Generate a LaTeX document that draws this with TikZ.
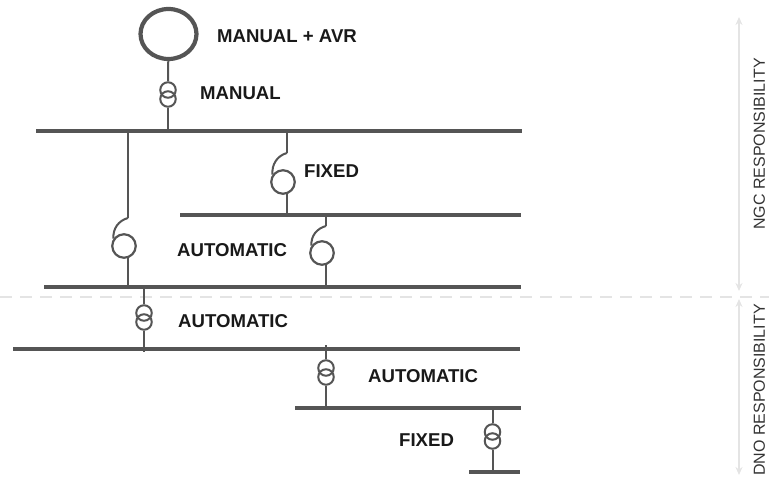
\documentclass[tikz,border=0pt]{standalone}
\usepackage{fontspec}
\setmainfont{Liberation Sans}
\usetikzlibrary{calc}
\usetikzlibrary{arrows.meta}
\usetikzlibrary{shapes.geometric}
\definecolor{linegrey}{HTML}{555555}
\definecolor{palegrey}{HTML}{E4E4E4}

\begin{document}
\begin{tikzpicture}[
      x=1pt, y=1pt,
      wire/.style={draw=linegrey, line width=2pt},
      bus/.style={rectangle, fill=linegrey, draw=none, inner sep=0pt, minimum height=4.8pt},
      trafo/.style={circle, draw=linegrey, line width=2pt, inner sep=0pt, minimum size=15.5pt},
      tap/.style={circle, draw=linegrey, line width=2.2pt, inner sep=0pt, minimum size=23.5pt},
      lbl/.style={font=\fontsize{18.6}{20}\selectfont\bfseries, text=black!90, anchor=west, inner sep=0pt},
      side/.style={font=\fontsize{16}{18}\selectfont, text=black!80, rotate=90, anchor=north west, inner sep=0pt},
      pale/.style={draw=palegrey, line width=1.5pt}
    ]
    \useasboundingbox (0,0) rectangle (769,478);

    % Limite de responsabilidade
    \coordinate (d1) at (0,181);
    \coordinate (d2) at (769,181);
    \draw[pale, dash pattern=on 12pt off 8pt] (d1) -- (d2);
    \coordinate (a1) at (739,461);
    \coordinate (a2) at (739,187);
    \coordinate (a3) at (739,179);
    \coordinate (a4) at (739,3);
    \draw[pale, {Stealth[length=8pt, width=7pt]}-{Stealth[length=8pt, width=7pt]}] (a1) -- (a2);
    \draw[pale, {Stealth[length=8pt, width=7pt]}-{Stealth[length=8pt, width=7pt]}] (a3) -- (a4);
    \node[side] (ngc) at (753.5,248) {NGC RESPONSIBILITY};
    \node[side] (dno) at (753.5,2) {DNO RESPONSIBILITY};

    % Barramentos
    \node[bus, minimum width=486pt] (b1) at (279,347) {};
    \node[bus, minimum width=341pt] (b2) at (350.5,263) {};
    \node[bus, minimum width=477pt] (b3) at (282.5,191) {};
    \node[bus, minimum width=507pt] (b4) at (266.5,129) {};
    \node[bus, minimum width=226pt] (b5) at (408,70) {};
    \node[bus, minimum width=51pt] (b6) at (494.5,6) {};

    % Gerador
    \node[ellipse, draw=linegrey, line width=4.2pt, inner sep=0pt, minimum width=56pt, minimum height=50pt] (gen) at (168.5,444) {};
    \node[trafo] (t1a) at (168,388) {};
    \node[trafo] (t1b) at (168,379) {};
    \draw[wire] (gen) -- (t1a);
    \draw[wire] (t1b) -- (t1b |- b1);

    % Transformadores
    \node[trafo] (t2a) at (144,165) {};
    \node[trafo] (t2b) at (144,156) {};
    \node[trafo] (t3a) at (326,110) {};
    \node[trafo] (t3b) at (326,101) {};
    \node[trafo] (t4a) at (492.5,46) {};
    \node[trafo] (t4b) at (492.5,37) {};
    \draw[wire] (t2a) -- (t2a |- b3);
    \draw[wire] (t2b) -- ($(t2b |- b4)+(0,-3)$);
    \draw[wire] (t3a) -- ($(t3a |- b4)+(0,4)$);
    \draw[wire] (t3b) -- (t3b |- b5);
    \draw[wire] (t4a) -- (t4a |- b5);
    \draw[wire] (t4b) -- (t4b |- b6);

    % Comutadores
    \node[tap] (sw1) at (124,232) {};
    \node[tap] (sw2) at (283,296) {};
    \node[tap] (sw3) at (322,225) {};
    \coordinate (f1) at (128,260);
    \coordinate (f2) at (287,325);
    \coordinate (f3) at (326,252);
    \draw[wire] (f1 |- b1) -- (f1);
    \draw[wire] (f2 |- b1) -- (f2);
    \draw[wire] (f3 |- b2) -- (f3);
    \draw[wire] (f1) to[out=195, in=95] (sw1.145);
    \draw[wire] (f2) to[out=195, in=95] (sw2.145);
    \draw[wire] (f3) to[out=195, in=95] (sw3.145);
    \draw[wire] (sw1.-72) -- (sw1.-72 |- b3);
    \draw[wire] (sw2.-72) -- (sw2.-72 |- b2);
    \draw[wire] (sw3.-72) -- (sw3.-72 |- b3);

    % Textos
    \node[lbl] (l1) at (217,442) {MANUAL + AVR};
    \node[lbl] (l2) at (200,385) {MANUAL};
    \node[lbl] (l3) at (304,307) {FIXED};
    \node[lbl] (l4) at (177,228) {AUTOMATIC};
    \node[lbl] (l5) at (178,157) {AUTOMATIC};
    \node[lbl] (l6) at (368,102) {AUTOMATIC};
    \node[lbl] (l7) at (399,38) {FIXED};

  \end{tikzpicture}
\end{document}
